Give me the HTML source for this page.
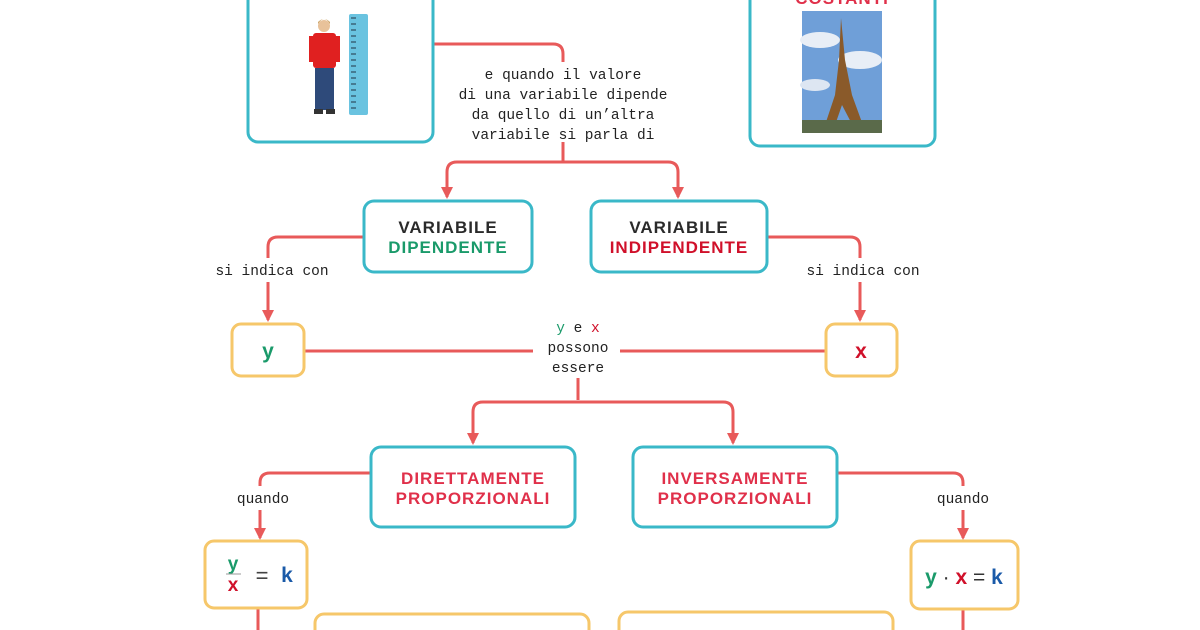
<!DOCTYPE html>
<html><head><meta charset="utf-8"><style>
html,body{margin:0;padding:0;background:#fff;}
svg{display:block;}
.m{font-family:"Liberation Mono","DejaVu Sans Mono",monospace;font-size:14.5px;fill:#222;}
.h{font-family:"Liberation Sans",sans-serif;font-weight:bold;font-size:17px;letter-spacing:1px;}
</style></head><body>
<svg width="1200" height="630" viewBox="0 0 1200 630" xmlns="http://www.w3.org/2000/svg">
<defs>
<marker id="a" markerWidth="12" markerHeight="12" refX="10" refY="6" orient="auto" markerUnits="userSpaceOnUse">
<path d="M0,0 L12,6 L0,12 z" fill="#e85a5a"/></marker>
</defs>
<g fill="none" stroke="#e85a5a" stroke-width="3">
<path d="M433,44 H553 Q563,44 563,54 V62"/>
<path d="M563,142 V162"/>
<path d="M563,162 H457 Q447,162 447,172 V197" marker-end="url(#a)"/>
<path d="M563,162 H668 Q678,162 678,172 V197" marker-end="url(#a)"/>
<path d="M364,237 H278 Q268,237 268,247 V258"/>
<path d="M268,282 V320" marker-end="url(#a)"/>
<path d="M767,237 H850 Q860,237 860,247 V258"/>
<path d="M860,282 V320" marker-end="url(#a)"/>
<path d="M304,351 H533"/>
<path d="M620,351 H826"/>
<path d="M578,378 V400"/>
<path d="M578,402 H483 Q473,402 473,412 V443" marker-end="url(#a)"/>
<path d="M578,402 H723 Q733,402 733,412 V443" marker-end="url(#a)"/>
<path d="M371,473 H270 Q260,473 260,483 V486"/>
<path d="M260,510 V538" marker-end="url(#a)"/>
<path d="M837,473 H953 Q963,473 963,483 V486"/>
<path d="M963,510 V538" marker-end="url(#a)"/>
<path d="M258,608 V630"/>
<path d="M963,609 V630"/>
</g>
<g fill="#fff" stroke="#3ab8c8" stroke-width="3">
<rect x="248" y="-12" width="185" height="154" rx="10"/>
<rect x="750" y="-12" width="185" height="158" rx="10"/>
<rect x="364" y="201" width="168" height="71" rx="10"/>
<rect x="591" y="201" width="176" height="71" rx="10"/>
<rect x="371" y="447" width="204" height="80" rx="10"/>
<rect x="633" y="447" width="204" height="80" rx="10"/>
</g>
<g fill="#fff" stroke="#f6c76a" stroke-width="3">
<rect x="232" y="324" width="72" height="52" rx="9"/>
<rect x="826" y="324" width="71" height="52" rx="9"/>
<rect x="205" y="541" width="102" height="67" rx="9"/>
<rect x="911" y="541" width="107" height="68" rx="9"/>
<rect x="315" y="614" width="274" height="40" rx="9"/>
<rect x="619" y="612" width="274" height="40" rx="9"/>
</g>
<!-- boy -->
<circle cx="324" cy="26" r="6" fill="#e8c29a"/>
<path d="M318,24 q6,-10 12,0 l0,-2 q-6,-6 -12,0z" fill="#c9a060"/>
<rect x="313" y="33" width="23" height="35" rx="3" fill="#e02020"/>
<rect x="309" y="36" width="5" height="26" fill="#e02020"/>
<rect x="335" y="36" width="5" height="26" fill="#e02020"/>
<rect x="315" y="68" width="19" height="42" fill="#2e4a7a"/>
<rect x="314" y="109" width="9" height="5" fill="#333"/>
<rect x="326" y="109" width="9" height="5" fill="#333"/>
<rect x="349" y="14" width="19" height="101" rx="2" fill="#6ac3e0"/>
<g stroke="#234" stroke-width="1">
<path d="M351,18h5M351,24h5M351,30h5M351,36h5M351,42h5M351,48h5M351,54h5M351,60h5M351,66h5M351,72h5M351,78h5M351,84h5M351,90h5M351,96h5M351,102h5M351,108h5"/>
</g>
<!-- eiffel -->
<rect x="802" y="11" width="80" height="122" fill="#6f9fd8"/>
<ellipse cx="820" cy="40" rx="20" ry="8" fill="#e8eef6"/>
<ellipse cx="860" cy="60" rx="22" ry="9" fill="#e8eef6"/>
<ellipse cx="815" cy="85" rx="15" ry="6" fill="#dde6f2"/>
<path d="M841,18 L845,60 L852,95 L864,128 L854,128 L842,105 L834,128 L824,128 L835,95 L839,60z" fill="#8a5a2a"/>
<rect x="802" y="120" width="80" height="13" fill="#5a6a4a"/>
<text x="842" y="4" text-anchor="middle" class="h" fill="#e0304a">COSTANTI</text>
<g class="m" text-anchor="middle">
<text x="563" y="79">e quando il valore</text>
<text x="563" y="99">di una variabile dipende</text>
<text x="563" y="119">da quello di un’altra</text>
<text x="563" y="139">variabile si parla di</text>
<text x="272" y="275">si indica con</text>
<text x="863" y="275">si indica con</text>
<text x="578" y="332"><tspan fill="#1a9a6a">y</tspan> e <tspan fill="#d0102a">x</tspan></text>
<text x="578" y="352">possono</text>
<text x="578" y="372">essere</text>
<text x="263" y="503">quando</text>
<text x="963" y="503">quando</text>
</g>
<g class="h" text-anchor="middle">
<text x="448" y="233" fill="#2a2a2a">VARIABILE</text>
<text x="448" y="253" fill="#1a9a6a">DIPENDENTE</text>
<text x="679" y="233" fill="#2a2a2a">VARIABILE</text>
<text x="679" y="253" fill="#d0102a">INDIPENDENTE</text>
<text x="473" y="484" fill="#e0304a">DIRETTAMENTE</text>
<text x="473" y="504" fill="#e0304a">PROPORZIONALI</text>
<text x="735" y="484" fill="#e0304a">INVERSAMENTE</text>
<text x="735" y="504" fill="#e0304a">PROPORZIONALI</text>
</g>
<g font-family="Liberation Sans, sans-serif" font-weight="bold" font-size="21" text-anchor="middle">
<text x="268" y="358" fill="#1a9a6a">y</text>
<text x="861" y="358" fill="#d0102a">x</text>
<text x="233" y="570" fill="#1a9a6a" font-size="19">y</text>
<line x1="226" y1="574" x2="241" y2="574" stroke="#999" stroke-width="1"/>
<text x="233" y="591" fill="#d0102a" font-size="19">x</text>
<text x="262" y="583" fill="#444" font-weight="normal" font-size="22">=</text>
<text x="287" y="582" fill="#1a5aa8">k</text>
<text x="964" y="584" fill="#333" font-size="21"><tspan fill="#1a9a6a">y</tspan><tspan font-weight="normal"> · </tspan><tspan fill="#d0102a">x</tspan><tspan font-weight="normal"> = </tspan><tspan fill="#1a5aa8">k</tspan></text>
</g>
</svg>
</body></html>
